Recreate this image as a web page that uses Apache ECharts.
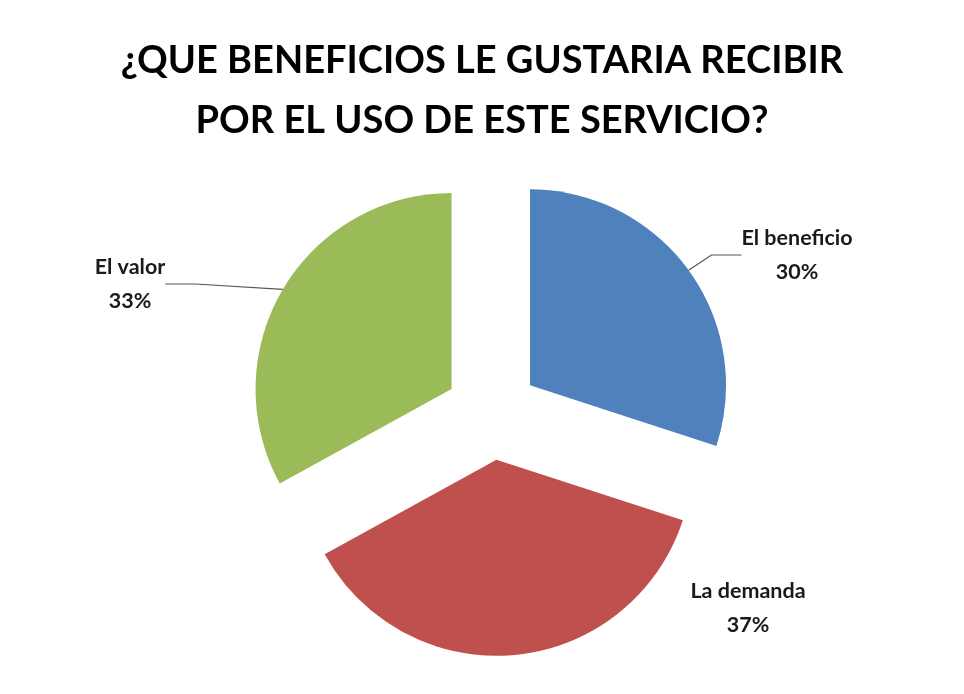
<!DOCTYPE html>
<html>
<head>
<meta charset="utf-8">
<script src="https://cdn.jsdelivr.net/npm/echarts@6/dist/echarts.min.js"></script>
<style>
html,body{margin:0;padding:0;background:#fff;}
#chart{width:964px;height:694px;}
</style>
</head>
<body>
<div id="chart"></div>
<script>
const titleLines = ['¿QUE BENEFICIOS LE GUSTARIA RECIBIR', 'POR EL USO DE ESTE SERVICIO?'];
const categories = ['El beneficio', 'La demanda', 'El valor'];
const values = [30, 37, 33];
const colors = ['#4F81BD', '#C0504D', '#9BBB59'];

const CX = 492, CY = 413, R = 196, EXPLODE = 47;
const labelPos = [[797, 255], [748, 608], [130, 284]];
const total = values.reduce((a, b) => a + b, 0);

const chart = echarts.init(document.getElementById('chart'));

let acc = 0;
const series = categories.map((cat, i) => {
  const mid = (acc + values[i] / 2) / total * 2 * Math.PI;
  acc += values[i];
  const center = [CX + EXPLODE * Math.sin(mid), CY - EXPLODE * Math.cos(mid)];
  return {
    type: 'pie',
    center: center,
    radius: R,
    startAngle: 90,
    clockwise: true,
    avoidLabelOverlap: false,
    animation: false,
    silent: true,
    emphasis: { disabled: true },
    data: categories.map((c, j) => ({
      name: c,
      value: values[j],
      itemStyle: { color: j === i ? colors[j] : 'rgba(0,0,0,0)' },
      label: { show: j === i },
      labelLine: { show: j === i && i !== 1 }
    })),
    label: {
      position: 'outside',
      formatter: '{b}\n{d}%',
      fontFamily: 'Lato',
      fontWeight: 'bold',
      fontSize: 21.5,
      lineHeight: 34,
      color: '#1a1a1a'
    },
    labelLine: {
      lineStyle: { color: '#555', width: 1.2 }
    },
    labelLayout: function (p) {
      if (p.dataIndex !== i) return;
      return { x: labelPos[i][0], y: labelPos[i][1], align: 'center', verticalAlign: 'middle' };
    }
  };
});

chart.setOption({
  backgroundColor: '#ffffff',
  title: {
    text: titleLines.join('\n'),
    left: 'center',
    top: 26,
    textStyle: {
      fontFamily: 'Lato',
      fontWeight: 'bold',
      fontSize: 38,
      lineHeight: 60,
      color: '#000'
    }
  },
  series: series
});
</script>
</body>
</html>
